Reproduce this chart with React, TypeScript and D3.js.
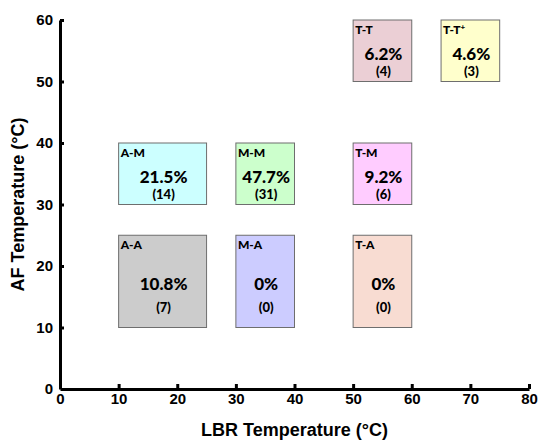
import React, { useEffect, useRef } from "react";
import * as d3 from "d3";

// Temperature class regions (LBR on x, AF on y)
const labels = ["A-A", "M-A", "T-A", "A-M", "M-M", "T-M", "T-T", "T-T+"];
const lbrFrom = [10, 30, 50, 10, 30, 50, 50, 65];
const lbrTo = [25, 40, 60, 25, 40, 60, 60, 75];
const afFrom = [10, 10, 10, 30, 30, 30, 50, 50];
const afTo = [25, 25, 25, 40, 40, 40, 60, 60];
const percents = ["10.8%", "0%", "0%", "21.5%", "47.7%", "9.2%", "6.2%", "4.6%"];
const counts = [7, 0, 0, 14, 31, 6, 4, 3];

const xTicks = [0, 10, 20, 30, 40, 50, 60, 70, 80];
const yTicks = [0, 10, 20, 30, 40, 50, 60];

const fills = ["#cccccc", "#ccccff", "#f8dcd2", "#ccffff", "#ccffcc", "#ffccff", "#ebcfd5", "#ffffcc"];

const W = 539;
const H = 441;
const margin = { top: 20, right: 10, bottom: 52, left: 60 };

const App = () => {
  const svgRef = useRef<SVGSVGElement>(null);

  useEffect(() => {
    const svg = d3.select(svgRef.current);
    svg.selectAll("*").remove();

    const x = d3.scaleLinear().domain([0, 80]).range([margin.left, W - margin.right]);
    const y = d3.scaleLinear().domain([0, 60]).range([H - margin.bottom, margin.top]);

    const boxFont = "Lato, 'Open Sans', sans-serif";

    // boxes
    const g = svg
      .append("g")
      .selectAll("g")
      .data(labels.map((l, i) => i))
      .join("g");

    g.append("rect")
      .attr("x", (i) => x(lbrFrom[i]))
      .attr("y", (i) => y(afTo[i]))
      .attr("width", (i) => x(lbrTo[i]) - x(lbrFrom[i]))
      .attr("height", (i) => y(afFrom[i]) - y(afTo[i]))
      .attr("fill", (i) => fills[i])
      .attr("stroke", "#6e6e6e")
      .attr("stroke-width", 1);

    const lab = g
      .append("text")
      .attr("x", (i) => x(lbrFrom[i]) + 2)
      .attr("y", (i) => y(afTo[i]) + 14)
      .style("font-family", boxFont)
      .style("font-weight", "900")
      .style("font-size", "12px")
      .style("fill", "#000");
    lab.append("tspan").text((i) => labels[i].replace("+", ""));
    lab
      .filter((i) => labels[i].endsWith("+"))
      .append("tspan")
      .attr("dy", -4)
      .style("font-size", "8px")
      .text("+");

    const tall = (i: number) => afTo[i] - afFrom[i] > 10;

    g.append("text")
      .attr("x", (i) => (x(lbrFrom[i]) + x(lbrTo[i])) / 2 + 1)
      .attr("y", (i) => y(afTo[i]) + (tall(i) ? 49 : 34))
      .attr("dy", "0.35em")
      .attr("text-anchor", "middle")
      .style("font-family", boxFont)
      .style("font-weight", "900")
      .style("font-size", "17px")
      .text((i) => percents[i]);

    g.append("text")
      .attr("x", (i) => (x(lbrFrom[i]) + x(lbrTo[i])) / 2 + 1)
      .attr("y", (i) => y(afTo[i]) + (tall(i) ? 72 : 51))
      .attr("dy", "0.35em")
      .attr("text-anchor", "middle")
      .style("font-family", boxFont)
      .style("font-weight", "900")
      .style("font-size", "13px")
      .text((i) => `(${counts[i]})`);

    // axes
    const axisFont = "'Liberation Sans', Arial, sans-serif";

    const xAxis = svg
      .append("g")
      .attr("transform", `translate(0,${y(0)})`)
      .call(
        d3
          .axisBottom(x)
          .tickValues(xTicks)
          .tickSizeInner(-5)
          .tickSizeOuter(0)
          .tickPadding(4)
      );
    xAxis.select(".domain").attr("stroke-width", 3);
    xAxis.selectAll(".tick line").attr("stroke-width", 3).filter((d) => d === 0).remove();
    xAxis
      .selectAll(".tick text")
      .style("font-family", axisFont)
      .style("font-weight", "bold")
      .style("font-size", "15px")
      .attr("fill", "#000");

    const yAxis = svg
      .append("g")
      .attr("transform", `translate(${x(0)},0)`)
      .call(
        d3
          .axisLeft(y)
          .tickValues(yTicks)
          .tickSizeInner(-4)
          .tickSizeOuter(0)
          .tickPadding(7)
      );
    yAxis.select(".domain").attr("stroke-width", 3);
    yAxis.selectAll(".tick line").attr("stroke-width", 3).filter((d) => d === 0).remove();
    yAxis
      .selectAll(".tick text")
      .style("font-family", axisFont)
      .style("font-weight", "bold")
      .style("font-size", "15px")
      .attr("fill", "#000");

    // axis titles
    svg
      .append("text")
      .attr("x", (x(0) + x(80)) / 2)
      .attr("y", 436)
      .attr("text-anchor", "middle")
      .style("font-family", axisFont)
      .style("font-weight", "bold")
      .style("font-size", "18px")
      .text("LBR Temperature (°C)");

    svg
      .append("text")
      .attr("transform", `translate(24,${(y(0) + y(60)) / 2}) rotate(-90)`)
      .attr("text-anchor", "middle")
      .style("font-family", axisFont)
      .style("font-weight", "bold")
      .style("font-size", "18px")
      .text("AF Temperature (°C)");
  }, []);

  return (
    <svg
      ref={svgRef}
      width={W}
      height={H}
      style={{ position: "absolute", left: 0, top: 0, background: "#fff" }}
    ></svg>
  );
};

export default App;
